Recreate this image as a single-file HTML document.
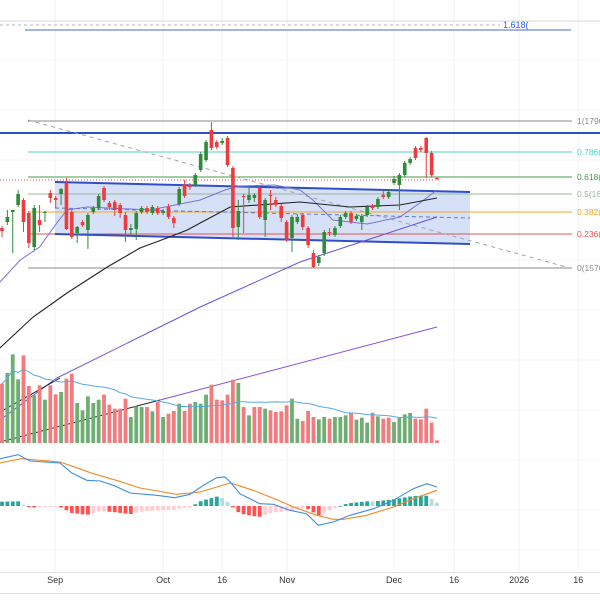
<!DOCTYPE html>
<html><head><meta charset="utf-8">
<style>
html,body{margin:0;padding:0;background:#fff;}
svg{display:block;font-family:"Liberation Sans",sans-serif;}
</style></head>
<body>
<svg id="chart" width="600" height="600" viewBox="0 0 600 600" xmlns="http://www.w3.org/2000/svg">
<g id="grid"></g>
<g id="drawings"></g>
<g id="mas"></g>
<g id="candles"></g>
<g id="volume"></g>
<g id="macd"></g>
<g id="axis"></g>
</svg>
<script>
const opens=[1616,1622,1632,1639,1644,1631,1597,1624,1631,1651,1646,1650,1661,1632,1611,1622,1614,1632,1636,1656,1641,1642,1639,1629,1614,1615,1632,1636,1631,1636,1631,1637,1626,1640,1660,1659,1659,1674,1684,1714,1702,1701,1706,1676,1617,1648,1644,1646,1656,1624,1649,1644,1638,1622,1606,1622,1629,1616,1591,1581,1591,1612,1609,1618,1627,1631,1625,1622,1629,1638,1637,1649,1647,1661,1659,1669,1681,1696,1696,1706,1691,1666];
const closes=[1613,1627,1634,1650,1622,1601,1636,1619,1632,1646,1644,1655,1615,1607,1617,1619,1629,1636,1648,1644,1637,1634,1631,1614,1616,1631,1636,1632,1637,1631,1633,1627,1621,1655,1648,1657,1669,1690,1702,1696,1697,1703,1679,1616,1633,1647,1649,1649,1627,1644,1648,1639,1626,1604,1627,1627,1617,1599,1577,1587,1612,1611,1616,1627,1631,1622,1628,1628,1637,1636,1645,1647,1652,1665,1669,1681,1685,1686,1694,1691,1669,1665];
const highs=[1618,1634,1634,1654,1646,1633,1639,1639,1633,1654,1648,1656,1666,1634,1618,1624,1631,1638,1650,1658,1643,1644,1641,1632,1620,1633,1638,1638,1639,1638,1635,1640,1628,1657,1664,1661,1671,1692,1704,1722,1704,1706,1708,1678,1644,1650,1657,1651,1659,1646,1654,1647,1640,1624,1629,1630,1631,1618,1594,1589,1614,1616,1618,1629,1633,1633,1630,1630,1639,1640,1647,1654,1654,1668,1671,1683,1687,1698,1698,1707,1693,1667];
const lows=[1607,1619,1591,1637,1612,1596,1594,1612,1622,1641,1636,1639,1614,1605,1601,1617,1595,1630,1634,1642,1634,1628,1626,1602,1608,1604,1630,1630,1629,1629,1629,1625,1616,1638,1646,1654,1657,1672,1682,1694,1695,1699,1677,1607,1604,1611,1641,1642,1625,1607,1634,1637,1622,1602,1592,1620,1614,1596,1576,1578,1588,1608,1607,1616,1625,1620,1623,1614,1627,1634,1635,1645,1645,1659,1634,1667,1679,1684,1692,1666,1667,1664];
const volumes=[178,210,266,191,263,171,143,173,130,173,146,153,193,208,120,98,140,120,130,145,115,103,103,133,78,110,108,108,95,123,78,88,96,118,96,118,123,118,145,175,130,128,145,190,180,108,83,108,108,103,98,93,95,113,133,73,66,96,78,71,78,73,78,78,83,90,70,76,61,91,80,73,76,63,76,86,90,73,71,103,61,8];
const volUp=[0,1,1,1,0,0,1,0,1,0,0,1,0,0,1,1,1,1,1,0,0,0,0,0,1,1,1,0,1,0,1,0,0,1,0,0,1,1,1,0,0,0,0,0,1,0,1,0,0,1,0,0,0,0,1,1,0,0,0,1,1,0,1,1,1,0,1,1,1,0,1,0,0,1,1,1,1,0,0,0,0,0];
const fastIdx=[-0.4,3.4,7,10.2,12.1,15.8,27.6,36.9,41.5,44.3,50.8,55.5,57.9,61.6,68,74.1,77.8,81];
const fastVal=[1562,1584,1597,1621,1634,1637,1634,1644,1654,1658,1659,1654,1644,1624,1620,1627,1641,1654];
const slowIdx=[-0.4,5.8,12.1,19.6,25.7,30.7,34.5,36.9,42.5,55.5,64.8,74.1,81];
const slowVal=[1496,1527,1551,1577,1596,1606,1614,1621,1637,1642,1637,1639,1646];
const longIdx=[-0.4,10.2,36.9,55.5,81];
const longVal=[1424,1466,1537,1582,1627];
const macdIdx=[-0.4,3,5.2,10.8,13,15.8,18.3,20.7,23.9,28.8,32.2,35,37.5,40,41.5,42.5,44.3,48,50.5,53.6,56.7,58.9,61.7,64.8,69.2,72.9,76.6,79.1,81];
const macdVal=[142,154,135,129,99,77,75,62,39,32,25,35,62,85,87,72,37,7,5,-13,-23,-58,-48,-28,-8,17,52,67,57];
const sigIdx=[-0.4,3.6,10.8,12.6,17,21.3,25.7,32.5,36.9,42.5,46.8,51.2,54.3,58.6,61.7,63.6,67.9,72.9,76.6,81];
const sigVal=[129,142,132,122,97,77,54,35,42,69,47,19,-3,-28,-40,-40,-28,-3,22,47];
const fibLevels=["1(1796","0.786(","0.618(","0.5(16","0.382(","0.236(","0(1576"];
const fibPrices=[1723,1692,1667,1650,1632,1610,1576];
const timeLabels=["Sep","Oct","16","Nov","Dec","16","2026","16"];
const timeIdx=[9.9,30,41,53.1,73,84.2,96.3,107.3];

const NS="http://www.w3.org/2000/svg";
function mk(parent,tag,attrs){const e=document.createElementNS(NS,tag);for(const k in attrs)e.setAttribute(k,attrs[k]);parent.appendChild(e);return e;}
const xS=i=>2+i*5.37;
const yP=p=>1844-p;
const yV=v=>443-v/3;
const yM=m=>506-m/3;
const G=id=>document.getElementById(id);
function interp(ix,vals,i){if(i<=ix[0])return vals[0];for(let k=1;k<ix.length;k++){if(i<=ix[k]){const t=(i-ix[k-1])/(ix[k]-ix[k-1]);return vals[k-1]+t*(vals[k]-vals[k-1]);}}return vals[vals.length-1];}

const grid=G('grid');
timeIdx.forEach(ti=>{const l=mk(grid,'line',{x1:xS(ti),x2:xS(ti),y1:0,y2:572,stroke:'#f2f3f5','stroke-width':1});
});
[60,110,160,210,260,310,360,410,460,510,550].forEach(y=>{const l=mk(grid,'line',{x1:0,x2:600,y1:y,y2:y,stroke:'#f4f5f7','stroke-width':1});
});

const dr=G('drawings');
let e;
e=mk(dr,'line',{x1:0,x2:600,y1:21,y2:21,stroke:'#d8d8dc','stroke-width':1});

e=mk(dr,'line',{x1:0,x2:500,y1:25,y2:25,stroke:'#b0b4bc','stroke-width':1,'stroke-dasharray':'3,3'});

e=mk(dr,'line',{x1:25,x2:571,y1:30,y2:30,stroke:'#6f86d6','stroke-width':1.3});

e=mk(dr,'text',{x:503,y:28,fill:'#2962ff','font-size':9});e.textContent='1.618(';

e=mk(dr,'polygon',{points:'55,182 470,192 470,244 55,234',fill:'#cfdcf6','fill-opacity':0.85});

e=mk(dr,'line',{x1:0,x2:600,y1:133,y2:133,stroke:'#2f4fc9','stroke-width':2});

const fibColors=['#8a8a8a','#4fd1c5','#4a9a4a','#9ab59a','#f5a623','#e05555','#8a8a8a'];
fibPrices.forEach((p,k)=>{const y=yP(p);
 const l=mk(dr,'line',{x1:28,x2:572,y1:y,y2:y,stroke:fibColors[k],'stroke-width':1});
 
 const t=mk(dr,'text',{x:577,y:y+3,fill:fibColors[k],'font-size':8.5});t.textContent=fibLevels[k];
 });
e=mk(dr,'line',{x1:28,y1:120,x2:570,y2:268,stroke:'#9ea3ab','stroke-width':1,'stroke-dasharray':'4,4'});

e=mk(dr,'line',{x1:55,y1:182,x2:470,y2:192,stroke:'#2f4fc9','stroke-width':2});

e=mk(dr,'line',{x1:55,y1:234,x2:470,y2:244,stroke:'#2f4fc9','stroke-width':2});

e=mk(dr,'line',{x1:55,y1:208,x2:470,y2:218,stroke:'#5b7bd6','stroke-width':1,'stroke-dasharray':'4,3'});

e=mk(dr,'line',{x1:0,x2:440,y1:yP(closes[closes.length-1])+1,y2:yP(closes[closes.length-1])+1,stroke:'#e05555','stroke-width':1,'stroke-dasharray':'1,2'});


const mas=G('mas');
function maPath(ix,vals,col,name,w){const d=ix.map((i,k)=>(k?'L':'M')+xS(i).toFixed(1)+','+yP(vals[k]).toFixed(1)).join(' ');
 const p=mk(mas,'path',{d:d,fill:'none',stroke:col,'stroke-width':w});}
maPath(fastIdx,fastVal,'#7b6fd6','ma-fast',1);
maPath(slowIdx,slowVal,'#222','ma-slow',1.1);
maPath(longIdx,longVal,'#6a4fe0','ma-long',1);
e=mk(mas,'path',{d:'M0,412 L60,378',fill:'none',stroke:'#222','stroke-width':1});

e=mk(mas,'path',{d:'M0,442 L160,400',fill:'none',stroke:'#222','stroke-width':1});

e=mk(mas,'path',{d:'M160,400 L437,327',fill:'none',stroke:'#8a4fe0','stroke-width':1});


const cg=G('candles');
closes.forEach((c,i)=>{const o=opens[i],up=c>=o,col=up?'#2e8b3a':'#ef3b3b',x=xS(i);
 const w=mk(cg,'line',{x1:x,x2:x,y1:yP(highs[i]),y2:yP(lows[i]),stroke:col,'stroke-width':1});
 
 const top=yP(Math.max(o,c)),h=Math.max(1,Math.abs(o-c));
 const b=mk(cg,'rect',{x:x-1.8,y:top,width:3.6,height:h,fill:col});
 });

const vg=G('volume');
volumes.forEach((v,i)=>{const r=mk(vg,'rect',{x:xS(i)-1.9,y:yV(v),width:3.8,height:v/3,fill:volUp[i]?'#6fae72':'#f27b7e'});
 });
const volMa=volumes.map((v,i)=>{const s=volumes.slice(Math.max(0,i-19),i+1);return s.reduce((a,b)=>a+b,0)/s.length;});
e=mk(vg,'path',{d:volMa.map((m,i)=>(i?'L':'M')+xS(i).toFixed(1)+','+yV(m).toFixed(1)).join(' '),fill:'none',stroke:'#5aa9e6','stroke-width':1});


const mg=G('macd');
let prev=null;
closes.forEach((c,i)=>{const h=interp(macdIdx,macdVal,i)-interp(sigIdx,sigVal,i);
 const rising=prev===null?true:h>prev;prev=h;
 const col=h>=0?(rising?'#26a69a':'#b2dfdb'):(rising?'#ffcdd2':'#ff5252');
 const y0=yM(0),y1=yM(h);
 const r=mk(mg,'rect',{x:xS(i)-1.9,y:Math.min(y0,y1),width:3.8,height:Math.max(0.8,Math.abs(y1-y0)),fill:col});
 });
function linePath(ix,vals){return ix.map((i,k)=>(k?'L':'M')+xS(i).toFixed(1)+','+yM(vals[k]).toFixed(1)).join(' ');}
e=mk(mg,'path',{d:linePath(sigIdx,sigVal),fill:'none',stroke:'#f08a2c','stroke-width':1.1});

e=mk(mg,'path',{d:linePath(macdIdx,macdVal),fill:'none',stroke:'#3d8fe0','stroke-width':1.1});


const ax=G('axis');
e=mk(ax,'line',{x1:0,x2:600,y1:572.5,y2:572.5,stroke:'#e0e3eb','stroke-width':1});

e=mk(ax,'line',{x1:0,x2:600,y1:593.5,y2:593.5,stroke:'#e0e3eb','stroke-width':1});

timeLabels.forEach((t,k)=>{const tx=mk(ax,'text',{x:xS(timeIdx[k]),y:583,'text-anchor':'middle','font-size':9,fill:'#333'});tx.textContent=t;
 });
</script>
</body></html>
